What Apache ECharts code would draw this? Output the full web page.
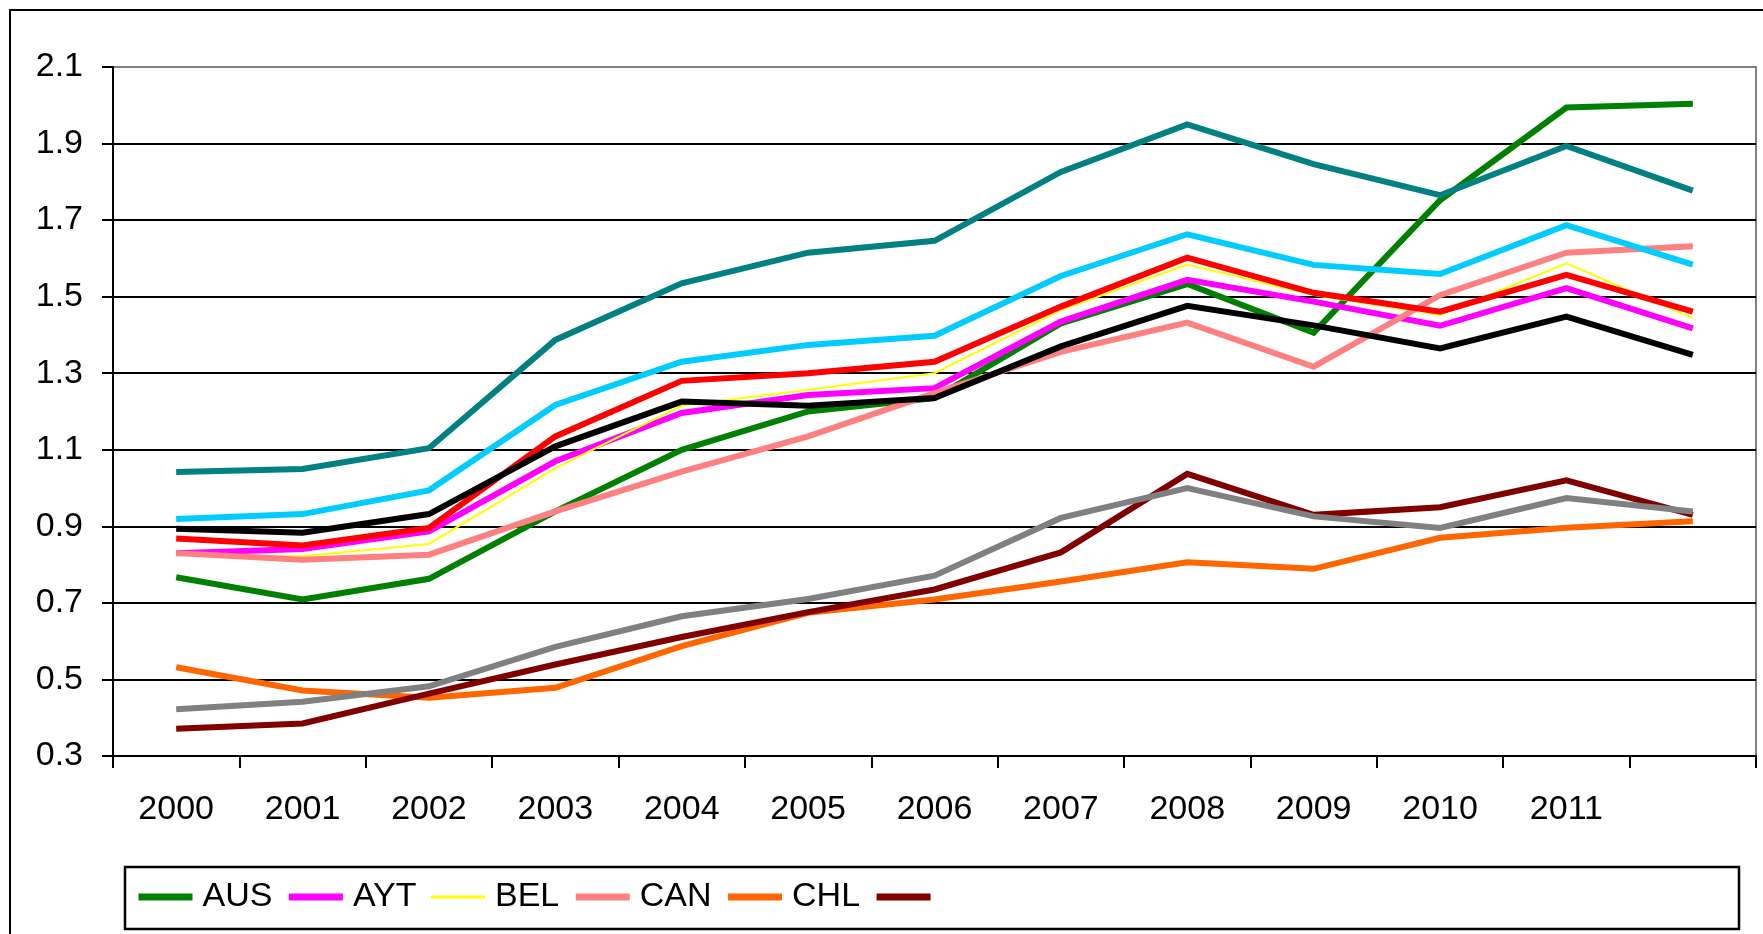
<!DOCTYPE html>
<html>
<head>
<meta charset="utf-8">
<script src="https://cdn.jsdelivr.net/npm/echarts@6/dist/echarts.min.js"></script>
<style>
html,body{margin:0;padding:0;background:#fff;}
#chart{width:1763px;height:934px;}
</style>
</head>
<body>
<div id="chart"></div>
<script>
// ---- data ----
const categories = ['2000','2001','2002','2003','2004','2005','2006','2007','2008','2009','2010','2011',''];
const yTicks = [0.3,0.5,0.7,0.9,1.1,1.3,1.5,1.7,1.9,2.1];

const seriesNames = ['AUS','AYT','BEL','CAN','CHL','S6','S7','S8','S9','S10','S11'];
const legendLabels = ['AUS','AYT','BEL','CAN','CHL',''];

const AUS = [0.767,0.709,0.763,0.939,1.100,1.200,1.235,1.430,1.533,1.406,1.752,1.994,2.004];
const AYT = [0.830,0.841,0.887,1.070,1.196,1.243,1.261,1.435,1.544,1.487,1.424,1.522,1.417];
const BEL = [0.825,0.822,0.854,1.052,1.215,1.257,1.300,1.465,1.584,1.504,1.452,1.587,1.444];
const CAN = [0.830,0.813,0.826,0.939,1.043,1.135,1.248,1.356,1.432,1.317,1.504,1.615,1.632];
const CHL = [0.532,0.471,0.452,0.478,0.587,0.674,0.709,0.756,0.806,0.789,0.870,0.896,0.913];
const S6  = [0.371,0.385,0.463,0.539,0.611,0.676,0.735,0.832,1.037,0.930,0.950,1.020,0.930];
const S7  = [1.042,1.050,1.104,1.387,1.535,1.615,1.646,1.826,1.950,1.846,1.765,1.894,1.777];
const S8  = [0.919,0.932,0.994,1.217,1.330,1.374,1.398,1.554,1.663,1.583,1.559,1.687,1.584];
const S9  = [0.868,0.850,0.896,1.135,1.280,1.300,1.330,1.474,1.602,1.510,1.461,1.557,1.461];
const S10 = [0.894,0.883,0.932,1.109,1.226,1.215,1.235,1.370,1.476,1.425,1.365,1.448,1.348];
const S11 = [0.422,0.442,0.482,0.585,0.665,0.710,0.771,0.922,1.000,0.926,0.896,0.974,0.939];
const seriesValues = [AUS,AYT,BEL,CAN,CHL,S6,S7,S8,S9,S10,S11];

// ---- styles ----
const colors = ['#008000','#FF00FF','#FFFF00','#FF8080','#FF6600','#800000','#008080','#00CCFF','#FF0000','#000000','#808080'];
const widths = [6,6,2,6,6,6,6,6,6,6,6];
const FONT = "'Liberation Sans', Arial, sans-serif";

const chart = echarts.init(document.getElementById('chart'), null, {renderer:'canvas'});

const series = seriesNames.map((n,i)=>({
  name: n,
  type: 'line',
  data: seriesValues[i],
  symbol: 'none',
  smooth: false,
  lineStyle: {color: colors[i], width: widths[i], join: 'miter'},
  itemStyle: {color: colors[i]},
  emphasis: {disabled: true},
  z: 2 + i*0.01
}));

const labelMap = {};
legendLabels.forEach((l,i)=>{ labelMap[seriesNames[i]] = l; });

chart.setOption({
  animation: false,
  backgroundColor: '#ffffff',
  textStyle: {fontFamily: FONT},
  graphic: [
    {type:'rect', z:-10, shape:{x:10,y:10,width:1800,height:1000}, style:{fill:'none', stroke:'#000', lineWidth:2}},
    {type:'rect', z:-10, shape:{x:125,y:867,width:1614,height:62}, style:{fill:'none', stroke:'#000', lineWidth:2.5}}
  ],
  grid: {left:113, right:7, top:67, bottom:178, containLabel:false, outerBoundsMode:'none',
         show:true, borderColor:'#808080', borderWidth:2, backgroundColor:'transparent'},
  legend: {
    left: 135, top: 880, padding: 0,
    orient: 'horizontal',
    itemWidth: 54, itemHeight: 14, itemGap: 13,
    selectedMode: false,
    itemStyle: {opacity: 0},
    data: legendLabels.map((l,i)=>({name: seriesNames[i], itemStyle:{opacity:0},
                                    lineStyle:{width: i===2 ? 3 : 7, color: colors[i]}})),
    formatter: (name)=>labelMap[name],
    textStyle: {fontSize: 34, color:'#000', fontFamily: FONT, padding:[0,0,0,5]}
  },
  xAxis: {
    type: 'category',
    data: categories,
    boundaryGap: true,
    axisLine: {show:true, lineStyle:{color:'#000', width:2}},
    axisTick: {show:true, interval:0, length:12, inside:false, lineStyle:{color:'#000', width:2}},
    axisLabel: {interval:0, fontSize:34, color:'#000', margin:37, fontFamily: FONT},
    splitLine: {show:false}
  },
  yAxis: {
    type: 'value',
    min: 0.3, max: 2.1,
    axisLine: {show:true, lineStyle:{color:'#000', width:2}},
    axisTick: {show:true, length:11, inside:false, lineStyle:{color:'#000', width:2}, customValues: yTicks},
    axisLabel: {fontSize:34, color:'#000', margin:30, fontFamily: FONT, customValues: yTicks,
                formatter: (v)=>v.toFixed(1)},
    splitLine: {show:true, showMaxLine:false, lineStyle:{color:'#000', width:2}}
  },
  series: series
});
</script>
</body>
</html>
